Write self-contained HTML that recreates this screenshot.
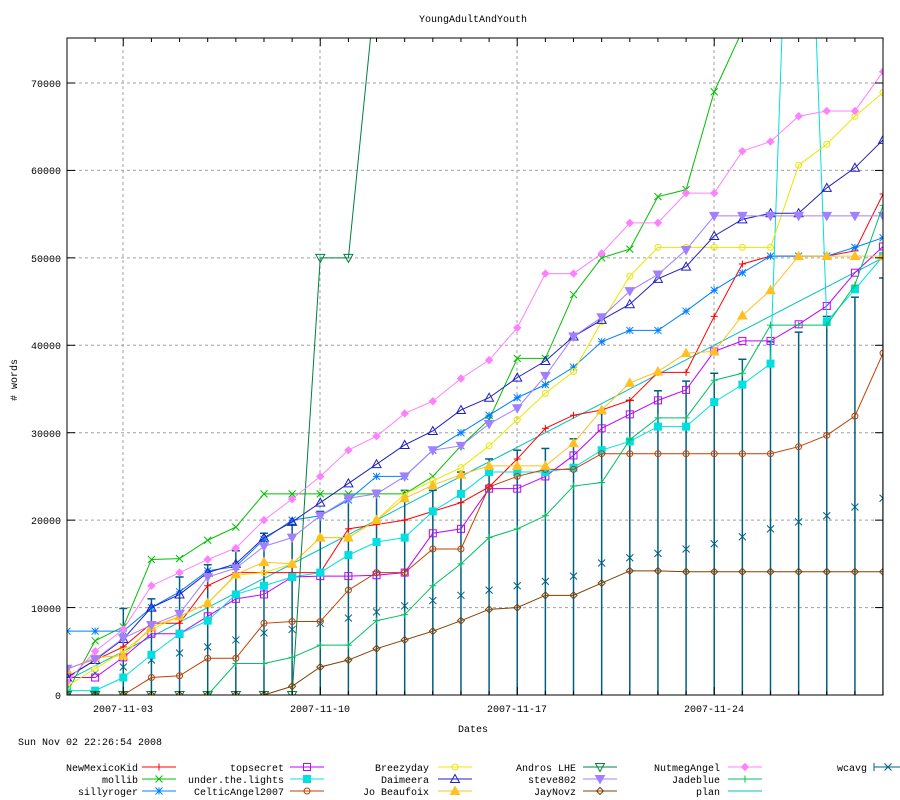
<!DOCTYPE html>
<html><head><meta charset="utf-8"><style>
html,body{margin:0;padding:0;background:#fff;width:900px;height:800px;overflow:hidden}
svg{display:block}
text{font-family:"Liberation Mono",monospace;font-size:10px;fill:#000}
</style></head><body>
<svg id="s" width="900" height="800" xmlns="http://www.w3.org/2000/svg">
<defs><clipPath id="c"><rect x="67" y="38" width="816" height="657"/></clipPath></defs>
<g id="grid"></g>
<g id="data" clip-path="url(#c)"></g>
<rect x="67" y="38" width="816" height="657" fill="none" stroke="#000" stroke-width="1"/>
<g id="ticks"></g>
<text x="473" y="22" text-anchor="middle">YoungAdultAndYouth</text>
<text x="473" y="732" text-anchor="middle">Dates</text>
<text transform="translate(17,380) rotate(-90)" text-anchor="middle"># words</text>
<text x="18" y="745">Sun Nov 02 22:26:54 2008</text>
<text x="61" y="699" text-anchor="end">0</text>
<text x="61" y="612" text-anchor="end">10000</text>
<text x="61" y="524" text-anchor="end">20000</text>
<text x="61" y="437" text-anchor="end">30000</text>
<text x="61" y="349" text-anchor="end">40000</text>
<text x="61" y="262" text-anchor="end">50000</text>
<text x="61" y="174" text-anchor="end">60000</text>
<text x="61" y="87" text-anchor="end">70000</text>
<text x="123" y="712" text-anchor="middle">2007-11-03</text>
<text x="320" y="712" text-anchor="middle">2007-11-10</text>
<text x="517" y="712" text-anchor="middle">2007-11-17</text>
<text x="714" y="712" text-anchor="middle">2007-11-24</text>
<g id="legend"></g>
<text x="138" y="771" text-anchor="end">NewMexicoKid</text>
<text x="138" y="783" text-anchor="end">mollib</text>
<text x="138" y="795" text-anchor="end">sillyroger</text>
<text x="284" y="771" text-anchor="end">topsecret</text>
<text x="284" y="783" text-anchor="end">under.the.lights</text>
<text x="284" y="795" text-anchor="end">CelticAngel2007</text>
<text x="429" y="771" text-anchor="end">Breezyday</text>
<text x="429" y="783" text-anchor="end">Daimeera</text>
<text x="429" y="795" text-anchor="end">Jo Beaufoix</text>
<text x="576" y="771" text-anchor="end">Andros LHE</text>
<text x="576" y="783" text-anchor="end">steve802</text>
<text x="576" y="795" text-anchor="end">JayNovz</text>
<text x="720" y="771" text-anchor="end">NutmegAngel</text>
<text x="720" y="783" text-anchor="end">Jadeblue</text>
<text x="720" y="795" text-anchor="end">plan</text>
<text x="867" y="771" text-anchor="end">wcavg</text>
</svg>
<script>
var NS="http://www.w3.org/2000/svg";
function X(i){return 67+28.14*i}
function Y(v){return 695-v*0.008743}
function el(p,t,a){var e=document.createElementNS(NS,t);for(var k in a)e.setAttribute(k,a[k]);document.getElementById(p).appendChild(e);return e}
[123,320,517,714].forEach(function(x){el("grid","line",{x1:x,y1:38,x2:x,y2:695,stroke:"#a0a0a0","stroke-dasharray":"3,3"})});
for(var v=10000;v<=70000;v+=10000){el("grid","line",{x1:67,y1:Y(v),x2:883,y2:Y(v),stroke:"#a0a0a0","stroke-dasharray":"3,3"})}
for(var v=0;v<=70000;v+=10000){var y=Y(v);el("ticks","line",{x1:67,y1:y,x2:75,y2:y,stroke:"#000"});el("ticks","line",{x1:875,y1:y,x2:883,y2:y,stroke:"#000"})}
for(var i=0;i<30;i++){var x=X(i),L=(i%7==2)?8:4;el("ticks","line",{x1:x,y1:695,x2:x,y2:695-L,stroke:"#000"});el("ticks","line",{x1:x,y1:38,x2:x,y2:38+L,stroke:"#000"})}
function mk(g,t,x,y,c){var s=3.5;
 if(t=="+"){el(g,"path",{d:"M"+(x-s)+" "+y+"H"+(x+s)+"M"+x+" "+(y-s)+"V"+(y+s),stroke:c,fill:"none"})}
 else if(t=="x"){el(g,"path",{d:"M"+(x-s)+" "+(y-s)+"L"+(x+s)+" "+(y+s)+"M"+(x-s)+" "+(y+s)+"L"+(x+s)+" "+(y-s),stroke:c,fill:"none"})}
 else if(t=="*"){el(g,"path",{d:"M"+(x-s)+" "+y+"H"+(x+s)+"M"+x+" "+(y-s)+"V"+(y+s)+"M"+(x-s)+" "+(y-s)+"L"+(x+s)+" "+(y+s)+"M"+(x-s)+" "+(y+s)+"L"+(x+s)+" "+(y-s),stroke:c,fill:"none"})}
 else if(t=="sq"||t=="SQ"){el(g,"rect",{x:x-s,y:y-s,width:2*s,height:2*s,stroke:c,fill:t=="SQ"?c:"none"})}
 else if(t=="o"){el(g,"circle",{cx:x,cy:y,r:3,stroke:c,fill:"none"})}
 else if(t=="tu"||t=="TU"){el(g,"path",{d:"M"+x+" "+(y-s-1)+"L"+(x+s+1)+" "+(y+s)+"L"+(x-s-1)+" "+(y+s)+"Z",stroke:c,fill:t=="TU"?c:"none"})}
 else if(t=="td"||t=="TD"){el(g,"path",{d:"M"+x+" "+(y+s+1)+"L"+(x+s+1)+" "+(y-s)+"L"+(x-s-1)+" "+(y-s)+"Z",stroke:c,fill:t=="TD"?c:"none"})}
 else if(t=="d"||t=="D"){el(g,"path",{d:"M"+x+" "+(y-s)+"L"+(x+s)+" "+y+"L"+x+" "+(y+s)+"L"+(x-s)+" "+y+"Z",stroke:c,fill:t=="D"?c:"none"})}
}
var S=[
["#ff0000","+",[2000,4000,5500,8200,8200,12500,14000,14000,14000,14000,19000,19500,20000,21000,22000,23800,27000,30500,32000,32600,33700,36900,36900,43300,49300,50200,50200,50200,50800,57300]],
["#00c000","x",[300,6200,7800,15500,15600,17700,19200,23000,23000,23000,23000,23000,23000,25000,28500,31500,38500,38500,45800,50000,51000,57000,57800,69000,76000,80000,85000,90000,95000,100000]],
["#0080ff","*",[7300,7300,7300,10000,11800,14200,14700,17800,20000,20500,22300,25000,25000,28000,30000,32000,34000,35500,37500,40400,41700,41700,43900,46300,48300,50200,50200,50200,51200,52300]],
["#c000ff","sq",[2000,2000,4300,7000,7000,9000,11000,11500,13500,13600,13600,13700,14000,18500,19000,23600,23600,25000,27400,30500,32100,33700,34900,39300,40500,40500,42400,44500,48300,51300]],
["#00e0e0","SQ",[500,500,2000,4600,7000,8500,11500,12500,13500,14000,16000,17500,18000,21000,23000,25500,25500,25500,26000,28000,29000,30700,30700,33500,35500,37900,130000,42700,46400,50200]],
["#c04000","o",[0,0,0,2000,2200,4200,4200,8200,8400,8400,12000,14000,14000,16700,16700,23800,25000,25800,25800,27600,27600,27600,27600,27600,27600,27600,28400,29700,31900,39100]],
["#e8e800","o",[1000,3000,5000,7500,9000,10500,13700,14000,15000,18000,18000,20000,23000,24500,26000,28500,31500,34500,37000,42700,47900,51200,51200,51200,51200,51200,60600,63000,66200,68900]],
["#2020c0","tu",[2000,4000,6400,10000,11500,14000,15000,18000,19800,22000,24200,26400,28600,30200,32600,34000,36300,38200,41000,42900,44700,47600,49000,52500,54400,55100,55100,58000,60300,63500]],
["#ffc020","TU",[2900,4300,4500,7800,9000,10500,13800,15200,15000,18000,18000,20000,22500,24000,25200,26200,26200,26200,28800,32600,35700,37000,39100,39300,43400,46300,50200,50200,50200,50200]],
["#008040","td",[0,0,0,0,0,0,0,0,0,50000,50000,82000,100000,100000,100000,100000,100000,100000,100000,100000,100000,100000,100000,100000,100000,100000,100000,100000,100000,100000]],
["#a080ff","TD",[3000,4100,6500,8000,9300,13500,14500,17000,18000,20500,22500,23000,25000,28000,28500,31000,32800,36500,41000,43200,46200,48100,50900,54800,54800,54800,54800,54800,54800,54800]],
["#804000","d",[0,0,0,0,0,0,0,0,1000,3200,4000,5300,6300,7300,8500,9800,10000,11400,11400,12800,14200,14200,14100,14100,14100,14100,14100,14100,14100,14100]],
["#ff80ff","D",[1500,5000,7500,12500,14000,15500,16800,20000,22400,25000,28000,29600,32200,33600,36200,38300,42000,48200,48200,50500,54000,54000,57400,57400,62200,63300,66200,66800,66800,71300]],
["#00c060","+",[0,0,0,0,0,0,3600,3600,4300,5700,5700,8500,9200,12500,15000,18000,19000,20500,23900,24300,29200,31700,31700,36000,36800,42300,42300,42300,46900,56000]]
];
var pp=[];for(var i=0;i<30;i++)pp.push(X(i)+","+Y(1667*(i+1)));
el("data","polyline",{points:pp.join(" "),stroke:"#00c0c0",fill:"none"});
var wa=[1200,2500,3200,4000,4800,5500,6300,7100,7500,8200,8800,9500,10200,10800,11400,12000,12500,13000,13600,15100,15700,16200,16700,17300,18100,19000,19800,20500,21500,22500];
var wt=[0,0,9900,11000,13500,14900,16500,18500,19500,21000,22500,23400,23400,23400,25500,27000,28000,28200,29300,32200,33700,34800,35900,36800,38400,40400,41500,43300,45500,47700];
for(var i=0;i<30;i++){var x=X(i);if(wt[i]>0){var t=Y(wt[i]);el("data","line",{x1:x,y1:t,x2:x,y2:700,stroke:"#006080","stroke-width":1.5});el("data","line",{x1:x-4,y1:t,x2:x+4,y2:t,stroke:"#006080","stroke-width":1.5})}
 mk("data","x",x,Y(wa[i]),"#006080")}
S.forEach(function(s){var p=[];s[2].forEach(function(v,i){p.push(X(i)+","+Y(v))});
 el("data","polyline",{points:p.join(" "),stroke:s[0],fill:"none"});
 s[2].forEach(function(v,i){mk("data",s[1],X(i),Y(v),s[0])})});
var LG=[[142,767,0],[142,779,1],[142,791,2],[290,767,3],[290,779,4],[290,791,5],[438,767,6],[438,779,7],[438,791,8],[583,767,9],[583,779,10],[583,791,11],[728,767,12],[728,779,13]];
LG.forEach(function(l){var s=S[l[2]];el("legend","line",{x1:l[0],y1:l[1],x2:l[0]+34,y2:l[1],stroke:s[0]});mk("legend",s[1],l[0]+17,l[1],s[0])});
el("legend","line",{x1:728,y1:791,x2:762,y2:791,stroke:"#00c0c0"});
el("legend","line",{x1:874,y1:767,x2:900,y2:767,stroke:"#006080"});
el("legend","line",{x1:874,y1:763,x2:874,y2:771,stroke:"#006080"});
mk("legend","x",888,767,"#006080");
</script>
</body></html>
